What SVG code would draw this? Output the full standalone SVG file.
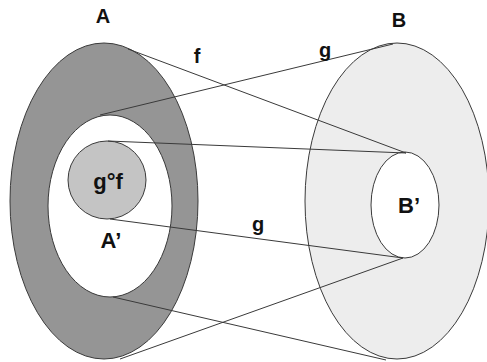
<svg xmlns="http://www.w3.org/2000/svg" width="487" height="362" viewBox="0 0 487 362">
<style>
.sh{stroke:#3a3a3a;stroke-width:1}
.ln{stroke:#3a3a3a;stroke-width:1;fill:none}
.t{font-family:"Liberation Sans",Arial,sans-serif;font-weight:bold;font-size:20px;fill:#111;text-anchor:middle}
.b{font-size:22px}
</style>
<rect width="487" height="362" fill="#fff"/>
<g id="B">
<ellipse class="sh" cx="397" cy="201" rx="92" ry="158" fill="#ededed"/>
<text class="t" x="399" y="27">B</text>
</g>
<g id="Bp">
<ellipse class="sh" cx="405" cy="205" rx="34" ry="53" fill="#fff"/>
<text class="t b" x="409" y="213">B’</text>
</g>
<g id="A">
<ellipse class="sh" cx="104" cy="201" rx="94" ry="158" fill="#959595"/>
<text class="t" x="103" y="23">A</text>
</g>
<g id="Ap">
<ellipse class="sh" cx="110" cy="206" rx="62" ry="91" fill="#fff"/>
<text class="t b" x="111" y="248">A’</text>
</g>
<g id="gof">
<circle class="sh" cx="107" cy="180" r="39" fill="#c4c4c4"/>
<text class="t b" x="108" y="189">g°f</text>
</g>
<g id="connectors">
<line class="ln" x1="128" y1="49" x2="406" y2="153"/>
<line class="ln" x1="100" y1="115" x2="393" y2="44"/>
<line class="ln" x1="108" y1="141" x2="406" y2="153"/>
<line class="ln" x1="110" y1="219" x2="403" y2="258"/>
<line class="ln" x1="113" y1="297" x2="386" y2="360"/>
<line class="ln" x1="120" y1="359" x2="403" y2="258"/>
<text class="t" x="197" y="63">f</text>
<text class="t" x="325" y="57">g</text>
<text class="t" x="258" y="231">g</text>
</g>
</svg>
